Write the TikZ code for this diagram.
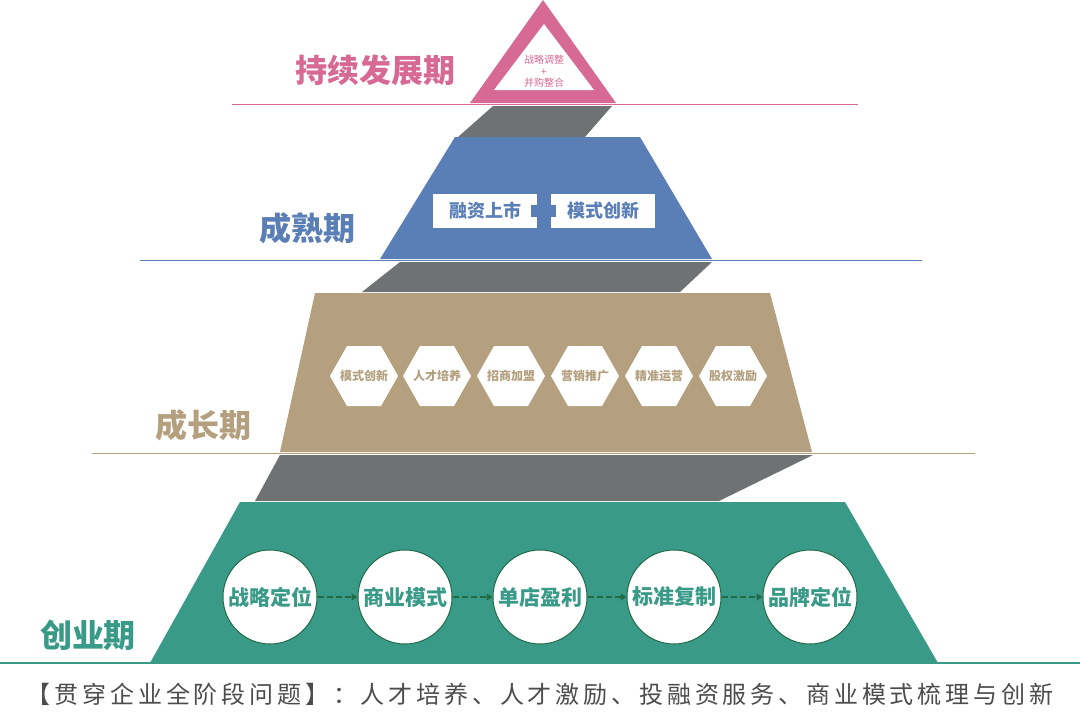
\documentclass[tikz,border=0pt]{standalone}
\usepackage{fontspec}
\setmainfont{Noto Sans CJK SC}
\usetikzlibrary{shapes.geometric,arrows.meta}
\definecolor{pk}{HTML}{D76A94}
\definecolor{bl}{HTML}{5A7EB6}
\definecolor{tn}{HTML}{B4A07E}
\definecolor{gn}{HTML}{3A9A88}
\definecolor{gy}{HTML}{6E7273}
\definecolor{dg}{HTML}{1E6B45}
\begin{document}
\begin{tikzpicture}[x=1pt,y=-1pt,
  lab/.style={font=\fontsize{32}{34}\selectfont\bfseries},
  circ/.style={circle,draw=dg,line width=1pt,fill=white,minimum size=94pt,inner sep=0pt,text=gn,font=\fontsize{21}{23}\selectfont\bfseries},
  hext/.style={inner sep=0pt,text=tn,font=\fontsize{12}{14}\selectfont\bfseries},
  box/.style={fill=white,minimum width=104pt,minimum height=34pt,inner sep=0pt,text=bl,font=\fontsize{18}{20}\selectfont\bfseries},
  tri/.style={text=pk,inner sep=0pt,font=\fontsize{10}{11}\selectfont},
  arr/.style={dg,line width=2pt,dash pattern=on 6pt off 3pt,-{Triangle[length=6pt,width=7pt]}}]
\useasboundingbox (0,0) rectangle (1080,726);
% lines
\draw[pk,line width=1pt] (232,104) -- (858,104);
\draw[bl,line width=1pt] (140,260) -- (922,260);
\draw[tn,line width=1pt] (92,453) -- (975,453);
\draw[gn,line width=1.5pt] (0,663) -- (1080,663);
% gray connectors
\fill[gy] (493,106) -- (612,106) -- (585,137) -- (458,137) -- cycle;
\fill[gy] (400,262) -- (712,262) -- (680,292) -- (362,292) -- cycle;
\fill[gy] (280,455) -- (813,455) -- (719,501) -- (255,501) -- cycle;
% pink triangle
\fill[pk] (543,0) -- (616,103) -- (470,103) -- cycle;
\fill[white] (544,24) -- (594,90) -- (494,90) -- cycle;
\node[tri] (t1) at (544,60) {战略调整};
\node[tri] (t2) at (544,72) {+};
\node[tri] (t3) at (544,83) {并购整合};
% blue
\fill[bl] (455,137) -- (640,137) -- (712,259) -- (380,259) -- cycle;
\node[box] (b1) at (485,211) {融资上市};
\node[box] (b2) at (603,211) {模式创新};
\fill[bl] (537,199) rectangle (550,223);
\fill[bl] (531,205) rectangle (556,217);
% tan
\fill[tn] (315,293) -- (770,293) -- (812,452) -- (280,452) -- cycle;
\foreach \x/\t [count=\i] in {364/模式创新,437/人才培养,511/招商加盟,585/营销推广,659/精准运营,733/股权激励}{
  \fill[white] (\x-34,376) -- (\x-17,346) -- (\x+17,346) -- (\x+34,376) -- (\x+17,406) -- (\x-17,406) -- cycle;
  \node[hext] (h\i) at (\x,376) {\t};}
% green
\fill[gn] (240,502) -- (845,502) -- (938,663) -- (150,663) -- cycle;
\foreach \x/\t [count=\i] in {270/战略定位,405/商业模式,540/单店盈利,674/标准复制,810/品牌定位}
  \node[circ] (c\i) at (\x,597) {\t};
\foreach \a/\b in {c1/c2,c2/c3,c3/c4,c4/c5}
  \draw[arr] (\a) -- (\b);
% labels
\node[lab,text=pk] (l1) at (375,70) {持续发展期};
\node[lab,text=bl] (l2) at (307,228) {成熟期};
\node[lab,text=tn] (l3) at (203,425) {成长期};
\node[lab,text=gn] (l4) at (88,635) {创业期};
\node[text=black!70,font=\fontsize{24}{26}\selectfont\addfontfeature{LetterSpace=16}] (ft) at (540,694) {【贯穿企业全阶段问题】：人才培养、人才激励、投融资服务、商业模式梳理与创新};
\end{tikzpicture}
\end{document}
